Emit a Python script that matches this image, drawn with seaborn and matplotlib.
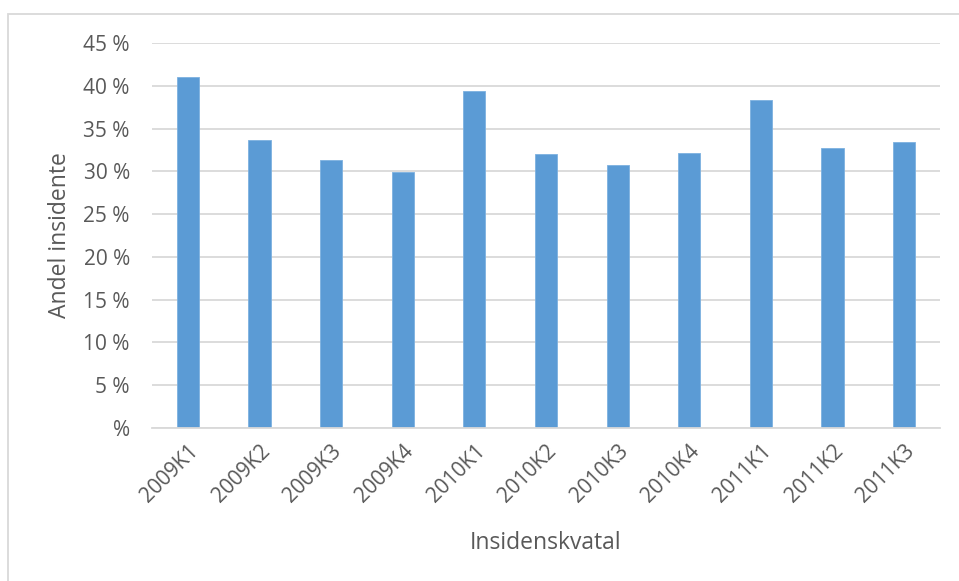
import matplotlib
matplotlib.use("Agg")
import matplotlib.pyplot as plt
from matplotlib.patches import Rectangle
from matplotlib.ticker import FixedLocator, FuncFormatter
import seaborn as sns
import pandas as pd

quarters = ["2009K1", "2009K2", "2009K3", "2009K4", "2010K1", "2010K2",
            "2010K3", "2010K4", "2011K1", "2011K2", "2011K3"]
share_pct = [41.0, 33.7, 31.3, 29.95, 39.4, 32.0, 30.7, 32.1, 38.4, 32.8, 33.5]
y_ticks = [0, 5, 10, 15, 20, 25, 30, 35, 40, 45]

sns.set_theme(style="white")
plt.rcParams["font.family"] = ["Open Sans", "DejaVu Sans"]

text_color = "#595959"
grid_color = "#D9D9D9"
bar_color = "#5B9BD5"

df = pd.DataFrame({"kvartal": quarters, "andel": share_pct})

fig = plt.figure(figsize=(9.59, 5.81), dpi=100)
ax = fig.add_axes([152 / 959, 1 - 427.7 / 581, (940 - 152) / 959, (427.7 - 43.3) / 581])

sns.barplot(data=df, x="kvartal", y="andel", color=bar_color, saturation=1,
            width=0.31, edgecolor="#7DB1E0", linewidth=0.6, ax=ax, zorder=3)

ax.set_ylim(0, 45)
ax.set_xlim(-0.5, len(quarters) - 0.5)
ax.yaxis.set_major_locator(FixedLocator(y_ticks))
ax.yaxis.set_major_formatter(FuncFormatter(lambda v, p: "%" if v == 0 else f"{int(v)} %"))
ax.grid(axis="y", color=grid_color, linewidth=1.3, zorder=0)
for s in ["top", "right", "left"]:
    ax.spines[s].set_visible(False)
ax.spines["bottom"].set_color(grid_color)
ax.spines["bottom"].set_linewidth(1.3)
ax.spines["bottom"].set_zorder(4)

ax.tick_params(axis="both", length=0, colors=text_color, labelsize=15)
ax.tick_params(axis="y", pad=16)
ax.tick_params(axis="x", pad=9)
for lbl in ax.get_xticklabels():
    lbl.set_rotation(45)
    lbl.set_ha("right")
    lbl.set_va("top")
    lbl.set_rotation_mode("anchor")

ax.set_xlabel("Insidenskvatal", fontsize=16.5, color=text_color, labelpad=18)
ax.set_ylabel("Andel insidente", fontsize=16.5, color=text_color, labelpad=8)

fig.patches.append(Rectangle((8 / 959, -0.05), 1.0, 1 - 14 / 581 + 0.05,
                             transform=fig.transFigure, fill=False,
                             edgecolor=grid_color, linewidth=1.3))

fig.savefig("out.png", dpi=100, facecolor="white")
